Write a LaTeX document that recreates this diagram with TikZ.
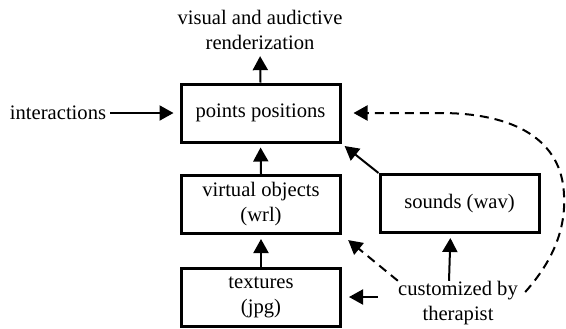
\documentclass[tikz,border=0pt]{standalone}
\usepackage{fontspec}
\newfontfamily\diagfont{LiberationSerif}[Extension=.ttf, UprightFont=*-Regular]
\usetikzlibrary{arrows.meta,calc}
\begin{document}
\begin{tikzpicture}[x=0.5pt,y=-0.5pt,
  txt/.style={font=\diagfont\fontsize{10.3}{12.5}\selectfont, align=center, inner sep=0pt},
  blk/.style={txt, draw, line width=1.5pt, minimum width=79.5pt, minimum height=29pt},
  arr/.style={line width=1pt, -{Triangle[length=7pt,width=7.5pt]}},
  darr/.style={arr, dash pattern=on 4.5pt off 3pt}]
\useasboundingbox (0,0) rectangle (566,328);

% blocks
\node[blk] (pp) at (260.5,113) {points positions};
\node[blk] (vo) at (261,204.5) {virtual objects\\(wrl)};
\node[blk] (tx) at (261,297) {textures\\(jpg)};
\node[blk] (sd) at (459.5,203.5) {sounds (wav)};

% free labels
\node[txt] (vis) at (260,30) {visual and audictive\\renderization};
\node[txt] (int) at (58,113) {interactions};
\node[txt] (cust) at (458,303) {customized by\\therapist};

% solid flows
\draw[arr, shorten >=3pt] (pp.north) -- (vis.south);
\draw[arr, shorten <=2pt, shorten >=3pt] (int.east) -- (pp.west);
\draw[arr, shorten >=2pt] (vo.north) -- (pp.south);
\draw[arr, shorten >=2pt] (tx.north) -- (vo.south);
\draw[arr, shorten >=2pt] (sd.north west) -- (pp.south east);
\draw[arr, shorten <=10pt, shorten >=3.5pt] (cust.west |- tx.east) -- (tx.east);
\draw[arr, shorten >=2pt] ([xshift=-4.5pt]cust.north) -- ([xshift=-4.5pt]sd.south);

% dashed flows
\draw[darr, shorten >=4pt] (cust.north west) -- (vo.south east);
\draw[darr, shorten >=6pt] ($(cust.east)+(3.5pt,5.5pt)$)
  .. controls (552,262) and (566,230) .. (564,195)
  .. controls (562,140) and (515,113) .. (440,113) -- (pp.east);
\end{tikzpicture}
\end{document}
